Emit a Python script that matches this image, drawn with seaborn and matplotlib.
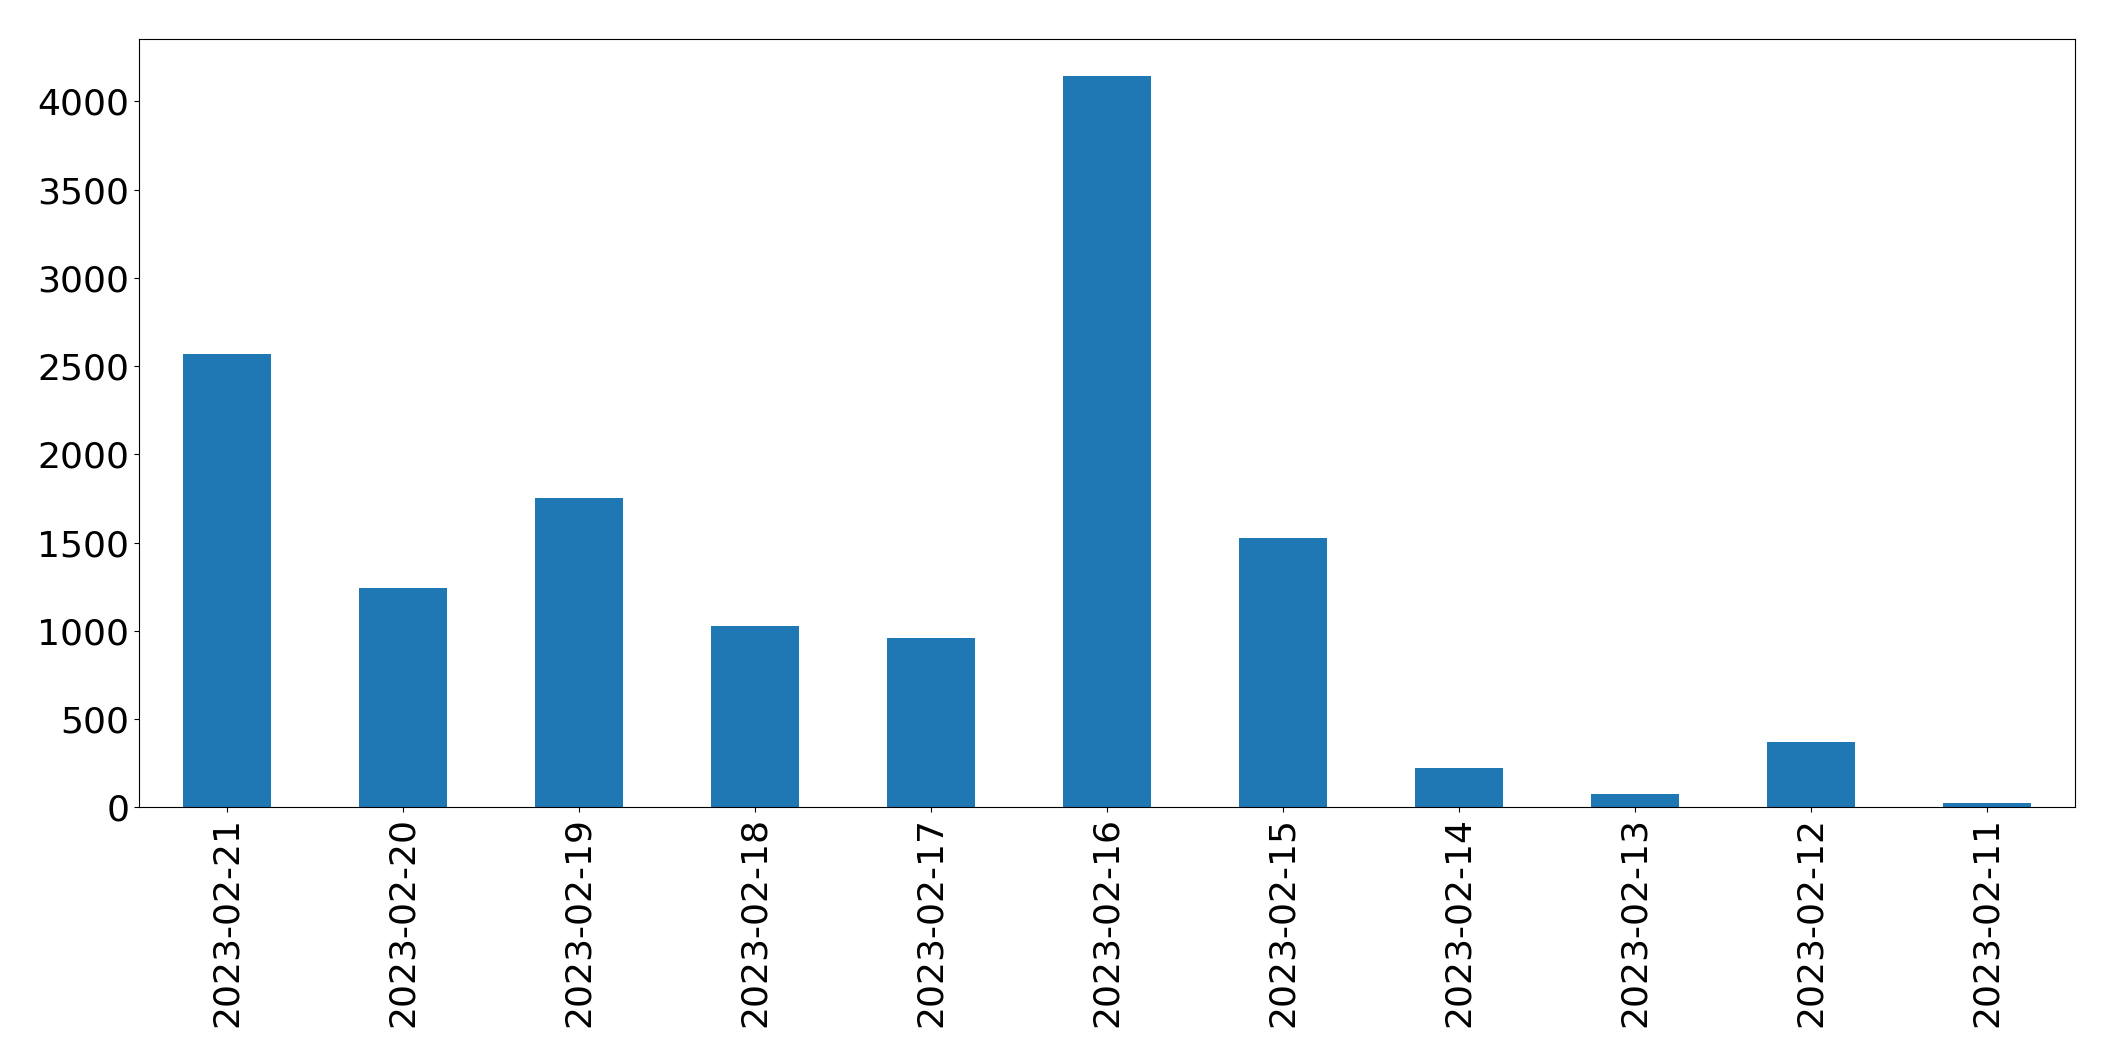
import matplotlib
matplotlib.use("Agg")
import matplotlib.pyplot as plt
import seaborn as sns
import pandas as pd

dates = ["2023-02-21","2023-02-20","2023-02-19","2023-02-18","2023-02-17","2023-02-16",
         "2023-02-15","2023-02-14","2023-02-13","2023-02-12","2023-02-11"]
counts = [2568, 1242, 1752, 1029, 960, 4145, 1524, 221, 76, 373, 23]

df = pd.DataFrame({"date": dates, "count": counts})
fig = plt.figure(figsize=(21.15, 10.61), dpi=100)
ax = fig.add_axes([0.0657, 0.239, 0.9153, 0.724])
sns.barplot(data=df, x="date", y="count", color="#1f77b4", saturation=1, width=0.5, ax=ax)
ax.set_xlabel("")
ax.set_ylabel("")
ax.set_xlim(-0.5, len(dates) - 0.5)
ax.tick_params(axis="both", labelsize=26)
ax.tick_params(axis="x", rotation=90)
fig.savefig("out.png", dpi=100)
